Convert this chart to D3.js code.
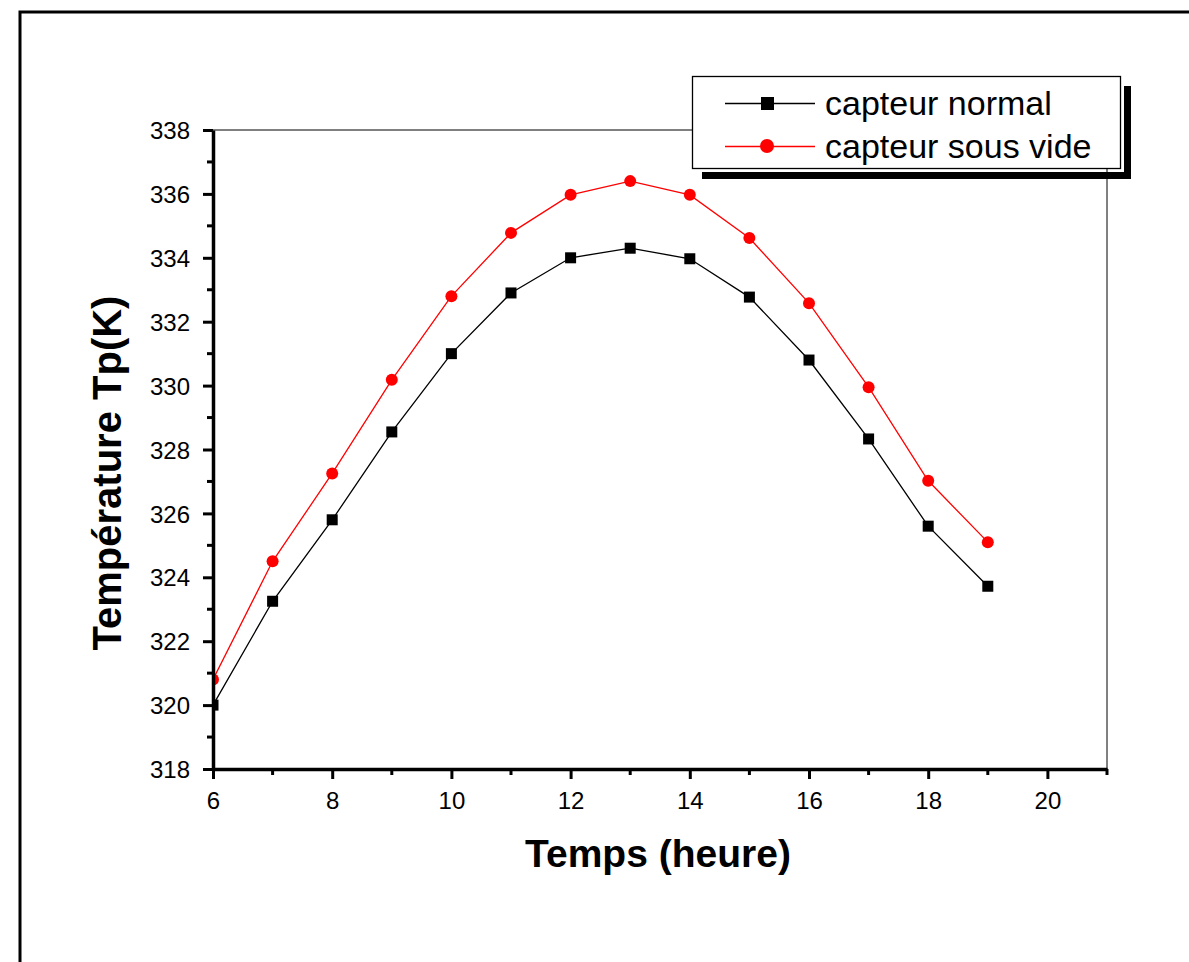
<!DOCTYPE html>
<html><head><meta charset="utf-8">
<script src="https://cdn.jsdelivr.net/npm/d3@7/dist/d3.min.js"></script>
<style>body{margin:0;background:#fff}svg{display:block}text{font-family:Arial,"Liberation Sans",sans-serif}</style>
</head><body><svg id="c" width="1189" height="962"></svg>
<script>
const hours = [6,7,8,9,10,11,12,13,14,15,16,17,18,19];
const normal = [320.0,323.25,325.8,328.55,331.0,332.9,334.0,334.3,333.97,332.77,330.8,328.33,325.6,323.72];
const vide = [320.8,324.5,327.25,330.18,332.8,334.78,335.97,336.4,335.97,334.62,332.58,329.95,327.02,325.1];
const xTicks = [6,8,10,12,14,16,18,20];
const yTicks = [318,320,322,324,326,328,330,332,334,336,338];
const seriesNames = ["capteur normal","capteur sous vide"];

const svg = d3.select("#c");
const L=213, R=1107, T=130, B=769;
const x = d3.scaleLinear().domain([6,21]).range([L,R]);
const y = d3.scaleLinear().domain([318,338]).range([B,T]);

// outer frame
svg.append("rect").attr("x",20).attr("y",12).attr("width",1200).attr("height",1000)
  .attr("fill","none").attr("stroke","#000").attr("stroke-width",3);

// top & right thin frame lines
svg.append("line").attr("x1",L).attr("x2",R).attr("y1",T).attr("y2",T).attr("stroke","#000").attr("stroke-width",1);
svg.append("line").attr("x1",R).attr("x2",R).attr("y1",T).attr("y2",B).attr("stroke","#000").attr("stroke-width",1);

svg.append("defs").append("clipPath").attr("id","clip").append("rect")
  .attr("x",L).attr("y",T-10).attr("width",R-L+10).attr("height",B-T+10);

const g = svg.append("g").attr("clip-path","url(#clip)");
const line = d3.line().x((d,i)=>x(hours[i])).y(d=>y(d));
g.append("path").datum(normal).attr("d",line).attr("fill","none").attr("stroke","#000").attr("stroke-width",1.3);
g.append("path").datum(vide).attr("d",line).attr("fill","none").attr("stroke","#ff0000").attr("stroke-width",1.3);
g.selectAll(".sq").data(normal).enter().append("rect")
  .attr("x",(d,i)=>x(hours[i])-5.5).attr("y",d=>y(d)-5.5).attr("width",11).attr("height",11).attr("fill","#000");
g.selectAll(".ci").data(vide).enter().append("circle")
  .attr("cx",(d,i)=>x(hours[i])).attr("cy",d=>y(d)).attr("r",6).attr("fill","#ff0000");

// axes
const xAxis = d3.axisBottom(x).tickValues(xTicks).tickSize(10).tickSizeOuter(0).tickPadding(13).tickFormat(d3.format("d"));
const gx = svg.append("g").attr("transform",`translate(0,${B})`).call(xAxis);
const xMinor = d3.range(7,22,2);
gx.selectAll(".minor").data(xMinor).enter().append("line").attr("class","minor")
  .attr("x1",d=>x(d)).attr("x2",d=>x(d)).attr("y1",0).attr("y2",6).attr("stroke","#000").attr("stroke-width",3);
const yAxis = d3.axisLeft(y).tickValues(yTicks).tickSize(10).tickSizeOuter(0).tickPadding(13).tickFormat(d3.format("d"));
const gy = svg.append("g").attr("transform",`translate(${L},0)`).call(yAxis);
const yMinor = d3.range(319,338,2);
gy.selectAll(".minor").data(yMinor).enter().append("line").attr("class","minor")
  .attr("x1",0).attr("x2",-6).attr("y1",d=>y(d)).attr("y2",d=>y(d)).attr("stroke","#000").attr("stroke-width",3);
[gx,gy].forEach(a=>{
  a.attr("font-size",24);
  a.select(".domain").attr("stroke","#000").attr("stroke-width",3.5);
  a.selectAll(".tick line").attr("stroke","#000").attr("stroke-width",3);
  a.selectAll(".tick text").attr("font-size",24).attr("fill","#000").style("font-family","Arial, 'Liberation Sans', sans-serif");
});
gy.selectAll(".tick text").attr("dy","0.36em");

// titles
svg.append("text").attr("x",658).attr("y",867).attr("text-anchor","middle")
  .attr("font-size",39).attr("font-weight","bold").text("Temps (heure)");
svg.append("text").attr("transform","translate(121,473) rotate(-90)").attr("text-anchor","middle")
  .attr("font-size",40).attr("font-weight","bold").text("Température Tp(K)");

// legend
svg.append("rect").attr("x",1124).attr("y",86).attr("width",7).attr("height",86).attr("fill","#000");
svg.append("rect").attr("x",702).attr("y",172).attr("width",429).attr("height",7).attr("fill","#000");
svg.append("rect").attr("x",692.5).attr("y",76.5).attr("width",428).attr("height",92)
  .attr("fill","#fff").attr("stroke","#000").attr("stroke-width",1.3);
const colors=["#000","#ff0000"];
seriesNames.forEach((n,i)=>{
  const cy = 103 + i*43;
  svg.append("line").attr("x1",725).attr("x2",815).attr("y1",cy+0.5).attr("y2",cy+0.5).attr("stroke",colors[i]).attr("stroke-width",1.3);
  if(i===0) svg.append("rect").attr("x",761).attr("y",cy-6).attr("width",13).attr("height",13).attr("fill","#000");
  else svg.append("circle").attr("cx",767).attr("cy",cy).attr("r",7).attr("fill","#ff0000");
  svg.append("text").attr("x",825).attr("y",cy+12).attr("font-size",34).attr("fill","#000").text(n);
});
</script></body></html>
